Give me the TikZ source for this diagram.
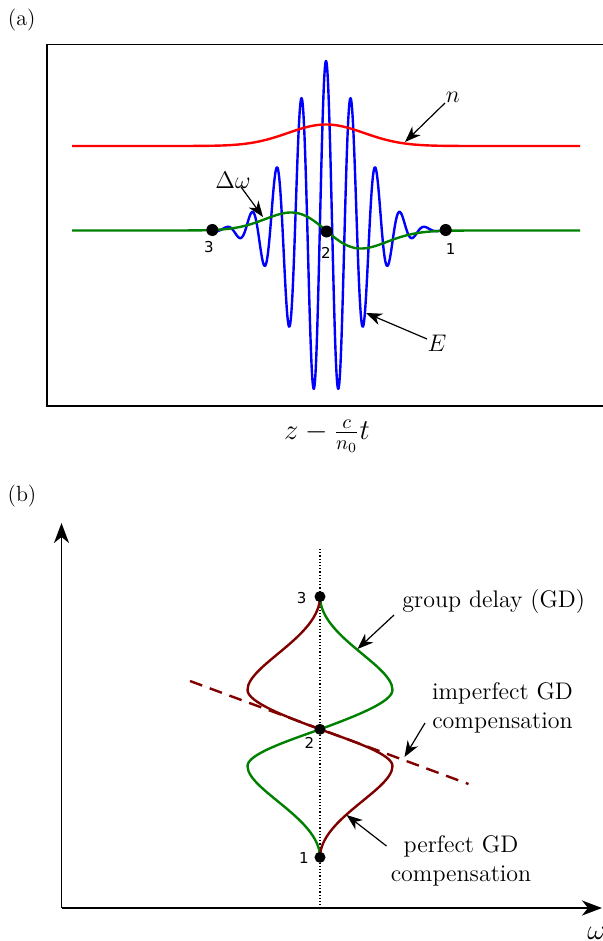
\documentclass[tikz,border=0pt]{standalone}
\usepackage{fontspec}
\newfontfamily\digitfont{DejaVu Sans}
\usetikzlibrary{arrows.meta}
\definecolor{pgreen}{RGB}{0,128,0}
\definecolor{pred}{RGB}{255,0,0}
\definecolor{pblue}{RGB}{0,0,255}
\definecolor{pmaroon}{RGB}{128,0,0}
\begin{document}
\begin{tikzpicture}[x=0.5pt,y=-0.5pt,
  curve/.style={line width=1.2pt, line join=round},
  annot/.style={line width=0.6pt, -{Stealth[length=8pt,width=6pt,inset=2.5pt]}},
  axisline/.style={line width=0.9pt, -{Stealth[length=10pt,width=7.5pt,inset=3pt]}},
  dotA/.style={circle, fill=black, inner sep=0pt, minimum size=6pt},
  dotB/.style={circle, fill=black, inner sep=0pt, minimum size=5.5pt},
  num/.style={font=\digitfont\fontsize{7.5}{9}\selectfont, inner sep=0pt},
  mathlab/.style={font=\fontsize{11.5}{14}\selectfont, inner sep=0pt},
  txtlab/.style={font=\fontsize{12}{14.4}\selectfont, inner sep=0pt, align=center},
  panel/.style={font=\fontsize{11}{13}\selectfont, inner sep=0pt}]
\useasboundingbox (0,0) rectangle (603,941);

% ---------------- panel (a) ----------------
\node[panel] (pa) at (21.7,20) {(a)};
\draw[line width=0.8pt] (603,44.5) -- (47,44.5) -- (47,405.7) -- (603,405.7);

\draw[curve, pblue] plot[domain=212:445, samples=700]
  (\x, {230 - 169*exp(-0.5*((\x-326)/35)^2)*cos(14.516*(\x-326))});
\draw[curve, pred] plot[domain=72:580, samples=300]
  (\x, {146 - 21.5*exp(-0.5*((\x-326)/38)^2)});
\draw[curve, pgreen] plot[domain=72:580, samples=300]
  (\x, {230.5 + 18*((\x-326)/35)*exp(0.5-0.5*((\x-326)/35)^2)});

\node[dotA] (a3) at (212.3,230) {};
\node[dotA] (a2) at (326.5,231.5) {};
\node[dotA] (a1) at (445.7,230) {};
\node[num] (a3l) at (209,246.7) {3};
\node[num] (a2l) at (326,253.3) {2};
\node[num] (a1l) at (450.7,248.7) {1};

\node[mathlab] (nlab) at (453,97) {$n$};
\coordinate (nstart) at (445,103);
\coordinate (ntip) at (405,142);
\draw[annot] (nstart) -- (ntip);

\node[mathlab] (dwlab) at (233,180) {$\Delta\omega$};
\coordinate (dwstart) at (241,187);
\coordinate (dwtip) at (263,217);
\draw[annot] (dwstart) -- (dwtip);

\node[mathlab] (Elab) at (437,343) {$E$};
\coordinate (Estart) at (427,339);
\coordinate (Etip) at (366,313);
\draw[annot] (Estart) -- (Etip);

\node[font=\fontsize{14.5}{17}\selectfont, inner sep=0pt] (zlab) at (327,436) {$z-\frac{c}{n_0}t$};

% ---------------- panel (b) ----------------
\node[panel] (pb) at (22,496) {(b)};
\coordinate (O) at (61.5,908);
\coordinate (ytip) at (61.5,523);
\coordinate (xtip) at (602,908);
\draw[axisline] (O) -- (ytip);
\draw[axisline] (O) -- (xtip);
\node[font=\fontsize{14.5}{17}\selectfont, inner sep=0pt, anchor=west] (wlab) at (587,933) {$\omega$};

\coordinate (vtop) at (320,549);
\coordinate (vbot) at (320,908);
\draw[densely dotted, line width=0.6pt] (vtop) -- (vbot);

\coordinate (dashA) at (190,681);
\coordinate (dashB) at (468.5,784);
\draw[pmaroon, line width=1.2pt, dash pattern=on 6.5pt off 4pt] (dashA) -- (dashB);

\coordinate (p3) at (320,596.6);
\coordinate (p2) at (320,729.3);
\coordinate (p1) at (320,857.3);

\draw[curve, pgreen] (p3)
  .. controls (320,636.6) and (392.5,665) .. (392.5,690)
  .. controls (392.5,702) and (355,716.4) .. (p2)
  .. controls (285,741.8) and (247.5,754.4) .. (247.5,766)
  .. controls (247.5,790) and (320,818.7) .. (p1);
\draw[curve, pmaroon] (p3)
  .. controls (320,636.6) and (247.5,665) .. (247.5,690)
  .. controls (247.5,702) and (285,716.4) .. (p2)
  .. controls (355,741.8) and (392.5,754.4) .. (392.5,766)
  .. controls (392.5,790) and (320,818.7) .. (p1);

\node[dotB] (b3) at (p3) {};
\node[dotB] (b2) at (p2) {};
\node[dotB] (b1) at (p1) {};
\node[num] (b3l) at (301.7,598.3) {3};
\node[num] (b2l) at (309.3,743.3) {2};
\node[num] (b1l) at (304,858.3) {1};

\node[txtlab, anchor=west] (gdlab) at (402,602) {group delay (GD)};
\coordinate (gdstart) at (394,615);
\coordinate (gdtip) at (357.5,649);
\draw[annot] (gdstart) -- (gdtip);

\node[txtlab] (implab) at (502.5,707.5) {imperfect GD\\compensation};
\coordinate (impstart) at (425,723);
\coordinate (imptip) at (404.5,757);
\draw[annot] (impstart) -- (imptip);

\node[txtlab] (perlab) at (461,860.5) {perfect GD\\compensation};
\coordinate (perstart) at (386.5,846);
\coordinate (pertip) at (346.5,815);
\draw[annot] (perstart) -- (pertip);
\end{tikzpicture}
\end{document}
